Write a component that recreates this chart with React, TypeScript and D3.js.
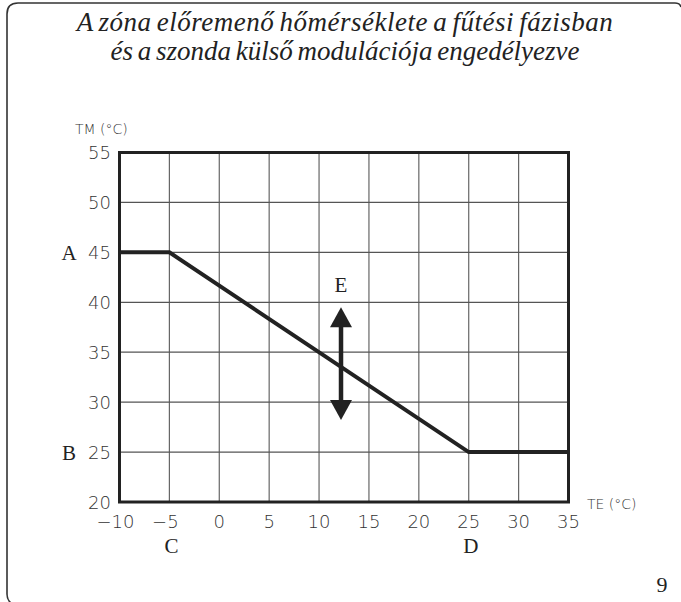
import React from "react";
import * as d3 from "d3";

const titleLines = [
  "A zóna előremenő hőmérséklete a fűtési fázisban",
  "és a szonda külső modulációja engedélyezve",
];
const titleSpacing = [0.5, 0];
const xTicks = [-10, -5, 0, 5, 10, 15, 20, 25, 30, 35];
const yTicks = [20, 25, 30, 35, 40, 45, 50, 55];
const curveTE = [-10, -5, 25, 35];
const curveTM = [45, 45, 25, 25];
const arrowTE = 12.2;
const arrowTM = [39.5, 28.2];
const pointLabels = [
  { t: "A", x: -10, y: 45, side: "left" },
  { t: "B", x: -10, y: 25, side: "left" },
  { t: "C", x: -5, y: 20, side: "bottom" },
  { t: "D", x: 25, y: 20, side: "bottom" },
];

const W = 681;
const H = 602;

export default function App() {
  const x = d3.scaleLinear().domain([-10, 35]).range([119.5, 568.5]);
  const y = d3.scaleLinear().domain([20, 55]).range([502, 152.5]);
  const line = d3
    .line<number>()
    .x((_, i) => x(curveTE[i]))
    .y((d) => y(d));
  const sans = "DejaVu Sans";
  const serif = "Liberation Serif";
  const ax = x(arrowTE);
  const yTop = y(arrowTM[0]);
  const yBot = y(arrowTM[1]);
  const hw = 11;
  const hh = 20;
  return (
    <svg
      width={W}
      height={H}
      style={{ position: "absolute", left: 0, top: 0, background: "#fff" }}
    >
      <path
        d="M 681 7 Q 680 3 675 3 L 18 3 Q 7 3 7 14 L 7 594 Q 7 600 11 603"
        fill="none"
        stroke="#333"
        strokeWidth={1.6}
      />
      {titleLines.map((t, i) => (
        <text
          key={i}
          x={345}
          y={31 + i * 29}
          textAnchor="middle"
          style={{
            fontFamily: "'Liberation Serif', 'Times New Roman', serif",
            fontStyle: "italic",
            fontSize: "27px",
            wordSpacing: "-2px",
            letterSpacing: titleSpacing[i] + "px",
          }}
          fill="#222"
        >
          {t}
        </text>
      ))}
      {/* grid */}
      {xTicks.map((v) => (
        <line
          key={"gx" + v}
          x1={x(v)}
          x2={x(v)}
          y1={y(55)}
          y2={y(20)}
          stroke="#666"
          strokeWidth={1.2}
        />
      ))}
      {yTicks.map((v) => (
        <line
          key={"gy" + v}
          x1={x(-10)}
          x2={x(35)}
          y1={y(v)}
          y2={y(v)}
          stroke="#555"
          strokeWidth={1.2}
        />
      ))}
      <rect
        x={x(-10)}
        y={y(55)}
        width={x(35) - x(-10)}
        height={y(20) - y(55)}
        fill="none"
        stroke="#222"
        strokeWidth={3}
      />
      {/* tick labels */}
      {yTicks.map((v) => (
        <text
          key={"ty" + v}
          x={111}
          y={y(v) + 6.5}
          textAnchor="end"
          fontFamily={sans}
          fontWeight={200}
          fontSize={18}
          fill="#333"
        >
          {v}
        </text>
      ))}
      {xTicks.map((v) => (
        <text
          key={"tx" + v}
          x={x(v) - (v < 0 ? 4 : 0)}
          y={528}
          textAnchor="middle"
          fontFamily={sans}
          fontWeight={200}
          fontSize={18}
          fill="#333"
        >
          {v < 0 ? "\u2212" + Math.abs(v) : v}
        </text>
      ))}
      <text x={75} y={134} fontFamily={sans} fontWeight={200} fontSize={14} fill="#333">
        TM (°C)
      </text>
      <text x={587} y={509} fontFamily={sans} fontWeight={200} fontSize={14} fill="#333">
        TE (°C)
      </text>
      {/* curve */}
      <path
        d={line(curveTM) || ""}
        fill="none"
        stroke="#222"
        strokeWidth={4}
        strokeLinejoin="miter"
      />
      {/* arrow */}
      <line x1={ax} x2={ax} y1={yTop + hh - 1} y2={yBot - hh + 1} stroke="#222" strokeWidth={4.5} />
      <path
        d={`M ${ax} ${yTop} L ${ax + hw} ${yTop + hh} L ${ax - hw} ${yTop + hh} Z`}
        fill="#222"
      />
      <path
        d={`M ${ax} ${yBot} L ${ax + hw} ${yBot - hh} L ${ax - hw} ${yBot - hh} Z`}
        fill="#222"
      />
      <text x={ax} y={292} textAnchor="middle" fontFamily={serif} fontSize={21} fill="#222">
        E
      </text>
      {pointLabels.map((p) =>
        p.side === "left" ? (
          <text
            key={p.t}
            x={69}
            y={y(p.y) + 8}
            textAnchor="middle"
            fontFamily={serif}
            fontSize={21}
            fill="#222"
          >
            {p.t}
          </text>
        ) : (
          <text
            key={p.t}
            x={x(p.x) + 2}
            y={553}
            textAnchor="middle"
            fontFamily={serif}
            fontSize={21}
            fill="#222"
          >
            {p.t}
          </text>
        )
      )}
      <text x={662} y={592} textAnchor="middle" fontFamily={serif} fontSize={22} fill="#222">
        9
      </text>
    </svg>
  );
}
